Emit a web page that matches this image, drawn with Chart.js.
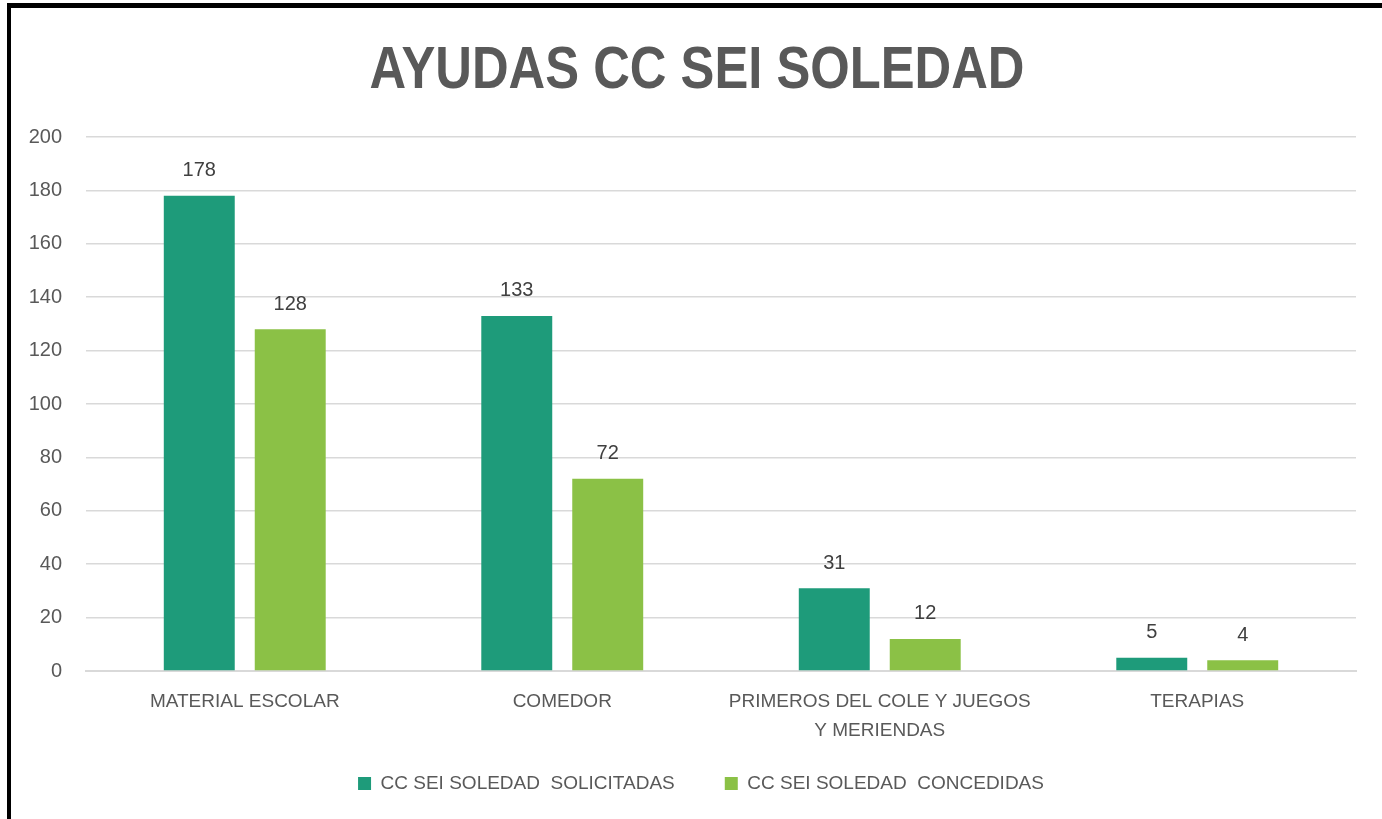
<!DOCTYPE html>
<html>
<head>
<meta charset="utf-8">
<script src="https://cdn.jsdelivr.net/npm/chart.js@4.4.1/dist/chart.umd.min.js"></script>
<style>
  html, body { margin: 0; padding: 0; background: #fff; overflow: hidden; }
  #wrap { position: relative; width: 1382px; height: 819px; }
  #frame { position: absolute; left: 7px; top: 3px; width: 2000px; height: 2000px;
           border-left: 4px solid #000; border-top: 5px solid #000; pointer-events: none; }
  canvas { position: absolute; left: 0; top: 0; }
</style>
</head>
<body>
<div id="wrap">
  <canvas id="c" width="1382" height="819"></canvas>
  <div id="frame"></div>
</div>
<script>
const titleText = 'AYUDAS CC SEI SOLEDAD';
const categories = ['MATERIAL ESCOLAR', 'COMEDOR', ['PRIMEROS DEL COLE Y JUEGOS', 'Y MERIENDAS'], 'TERAPIAS'];
const solicitadas = [178, 133, 31, 5];
const concedidas = [128, 72, 12, 4];
const seriesNames = ['CC SEI SOLEDAD  SOLICITADAS', 'CC SEI SOLEDAD  CONCEDIDAS'];
const yTicks = [0, 20, 40, 60, 80, 100, 120, 140, 160, 180, 200];

const FONT = "'Liberation Sans', Arial, sans-serif";

const titlePlugin = {
  id: 'narrowTitle',
  afterDraw(chart) {
    const ctx = chart.ctx;
    ctx.save();
    ctx.font = 'bold 60px ' + FONT;
    ctx.fillStyle = '#595959';
    ctx.textAlign = 'center';
    ctx.textBaseline = 'alphabetic';
    const w = ctx.measureText(titleText).width;
    const sx = 655 / w;
    ctx.translate(697, 88);
    ctx.scale(sx, 1);
    ctx.fillText(titleText, 0, 0);
    ctx.restore();
  }
};

const dataLabels = {
  id: 'dataLabels',
  afterDatasetsDraw(chart) {
    const ctx = chart.ctx;
    ctx.save();
    ctx.font = '20px ' + FONT;
    ctx.fillStyle = '#404040';
    ctx.textAlign = 'center';
    ctx.textBaseline = 'middle';
    chart.data.datasets.forEach((ds, i) => {
      const meta = chart.getDatasetMeta(i);
      meta.data.forEach((bar, j) => {
        ctx.fillText(String(ds.data[j]), bar.x, bar.y - 25);
      });
    });
    ctx.restore();
  }
};

new Chart(document.getElementById('c'), {
  type: 'bar',
  data: {
    labels: categories,
    datasets: [
      { label: seriesNames[0], data: solicitadas, backgroundColor: '#1e9b7a', borderWidth: 0,
        categoryPercentage: 0.573, barPercentage: 0.78 },
      { label: seriesNames[1], data: concedidas, backgroundColor: '#8bc146', borderWidth: 0,
        categoryPercentage: 0.573, barPercentage: 0.78 }
    ]
  },
  options: {
    responsive: false,
    animation: false,
    layout: { padding: { left: 46, right: 26, top: 137, bottom: 16 } },
    plugins: {
      title: { display: false },
      legend: {
        position: 'bottom',
        labels: {
          color: '#595959',
          font: { family: FONT, size: 19 },
          boxWidth: 13, boxHeight: 13,
          padding: 50
        }
      },
      tooltip: { enabled: false }
    },
    scales: {
      x: {
        grid: { display: false },
        border: { display: true, color: '#d9d9d9', width: 2 },
        ticks: { color: '#595959', font: { family: FONT, size: 19, lineHeight: 1.5 }, padding: 9, maxRotation: 0, autoSkip: false },
        afterFit(s) { s.height = 53; s._computeLabelArea = () => undefined; }
      },
      y: {
        min: 0, max: 200,
        afterBuildTicks(s) { s.ticks = yTicks.map(v => ({ value: v })); },
        grid: { color: '#d9d9d9', lineWidth: 1.5, drawTicks: false },
        border: { display: false },
        ticks: { color: '#595959', font: { family: FONT, size: 20 }, padding: 24 },
        afterFit(s) { s.width = 40; s._computeLabelArea = () => undefined; }
      }
    }
  },
  plugins: [dataLabels, titlePlugin]
});
</script>
</body>
</html>
